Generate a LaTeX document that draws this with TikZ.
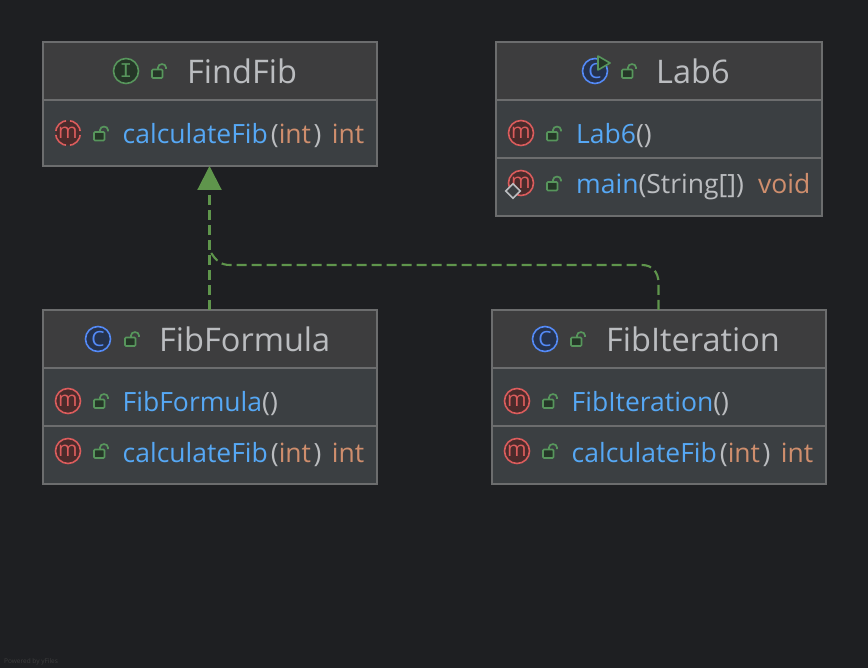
\documentclass[tikz,border=0pt]{standalone}
\usepackage{fontspec}
\setmainfont{Open Sans}
\newfontfamily\slabfont{Liberation Mono}
\usetikzlibrary{
  arrows.meta,
  positioning,
  shapes.geometric
}
\definecolor{canvasBg}{HTML}{1E1F22}
\definecolor{headFill}{HTML}{3D3D3E}
\definecolor{rowFill}{HTML}{3B3F42}
\definecolor{boxLine}{HTML}{6C6D6E}
\definecolor{plainText}{HTML}{BBBDC0}
\definecolor{nameBlue}{HTML}{56A8F5}
\definecolor{typeOrange}{HTML}{CF8E6D}
\definecolor{linkGreen}{HTML}{5F954C}
\definecolor{lockGreen}{HTML}{57965C}
\definecolor{lockFill}{HTML}{253627}
\definecolor{iconRed}{HTML}{DB5C5C}
\definecolor{iconRedFill}{HTML}{4A2B2B}
\definecolor{iconBlue}{HTML}{548AF7}
\definecolor{iconBlueFill}{HTML}{25324D}
\newcommand{\mname}[1]{\textcolor{nameBlue}{#1}}
\newcommand{\mplain}[1]{\textcolor{plainText}{#1}}
\newcommand{\mtype}[1]{\textcolor{typeOrange}{#1}}
\newcommand{\mcalc}{\mname{calculateFib}\kern3pt\mplain{(}\mtype{int}\kern2.5pt\mplain{)}}
\tikzset{
  headbox/.style={
    draw=boxLine,
    fill=headFill,
    line width=1.3pt,
    minimum height=58pt,
    inner sep=0pt,
    outer sep=0pt,
    anchor=north west
  },
  rowbox/.style={
    draw=boxLine,
    fill=rowFill,
    line width=1.3pt,
    inner sep=0pt,
    outer sep=0pt,
    minimum height=58pt
  },
  titletext/.style={
    anchor=base west,
    inner sep=0pt,
    text=plainText,
    font=\fontsize{32.5}{33}\selectfont
  },
  membertext/.style={
    anchor=base west,
    inner sep=0pt,
    font=\fontsize{26.5}{27}\selectfont
  },
  returntext/.style={
    membertext,
    anchor=base east
  },
  methodicon/.style={
    circle,
    draw=iconRed,
    fill=iconRedFill,
    text=iconRed,
    line width=1.6pt,
    inner sep=0pt,
    minimum size=25pt,
    font=\fontsize{21}{21}\selectfont
  },
  classicon/.style={
    methodicon,
    draw=iconBlue,
    fill=iconBlueFill,
    text=iconBlue
  },
  ifaceicon/.style={
    methodicon,
    draw=lockGreen,
    fill=lockFill,
    text=lockGreen
  },
  lockicon/.pic={
    \draw[lockGreen,line width=1.7pt,rounded corners=1pt,fill=lockFill] (0,0) rectangle (10.5,-8.5);
    \draw[lockGreen,line width=1.7pt] (6,-8.5) -- (6,-10.5) .. controls (6,-15) and (14,-15) .. (14,-10.5) -- (14,-9);
  },
  realise/.style={
    draw=linkGreen,
    line width=2.1pt,
    dash pattern=on 10pt off 5pt
  }
}
\begin{document}
\begin{tikzpicture}[x=1pt,y=-1pt,node distance=0pt]
  \useasboundingbox[fill=canvasBg] (0,0) rectangle (868,668);

  \node[headbox,minimum width=334pt] (FindFibHead) at (43,42) {};
  \node[rowbox,minimum width=334pt,minimum height=66pt,below=of FindFibHead] (FindFibRow) {};

  \node[headbox,minimum width=326pt] (LabHead) at (496,42) {};
  \node[rowbox,minimum width=326pt,below=of LabHead] (LabRowA) {};
  \node[rowbox,minimum width=326pt,below=of LabRowA] (LabRowB) {};

  \node[headbox,minimum width=334pt] (FormulaHead) at (43,310) {};
  \node[rowbox,minimum width=334pt,below=of FormulaHead] (FormulaRowA) {};
  \node[rowbox,minimum width=334pt,below=of FormulaRowA] (FormulaRowB) {};

  \node[headbox,minimum width=334pt] (IterHead) at (492,310) {};
  \node[rowbox,minimum width=334pt,below=of IterHead] (IterRowA) {};
  \node[rowbox,minimum width=334pt,below=of IterRowA] (IterRowB) {};

  \foreach \n/\x/\y in {labA/521/133,labB/521/183,formA/68/401,formB/68/451,iterA/517/401,iterB/517/451}{
    \node[methodicon] (\n) at (\x,\y) {m};
  }
  \node[methodicon,dash pattern=on 15.5pt off 4pt,dash phase=17.5pt] (findA) at (68,133) {m};
  \node[draw=plainText,fill=rowFill,line width=1.6pt,diamond,aspect=1,inner sep=0pt,minimum size=15pt] (labStatic) at (513,191) {};

  \node[ifaceicon,font=\slabfont\fontsize{21}{21}\selectfont] (findIcon) at (126,71) {I};
  \node[classicon] (labIcon) at (595,71) {C};
  \node[classicon] (formIcon) at (98,339) {C};
  \node[classicon] (iterIcon) at (545,339) {C};
  \draw[lockGreen,fill=lockFill,line width=1.6pt,line join=round] (598,56) -- (610,63) -- (598,70) -- cycle;

  \foreach \n/\x/\y in {lkFind/152/78,lkFindA/94/140.5,lkLab/622/78,lkLabA/547/140.5,lkLabB/547/190.5,lkForm/125/346,lkFormA/94/408,lkFormB/94/458,lkIter/571/346,lkIterA/543/408,lkIterB/543/458}{
    \pic (\n) at (\x,\y) {lockicon};
  }

  \node[titletext] (findTitle) at (187,84) {FindFib};
  \node[titletext] (labTitle) at (656,84) {Lab6};
  \node[titletext] (formTitle) at (159,351.5) {FibFormula};
  \node[titletext] (iterTitle) at (606,351.5) {FibIteration};

  \node[membertext] (findCalc) at (122.5,144) {\mcalc};
  \node[returntext] (findRet) at (364.5,144) {\mtype{int}};
  \node[membertext] (labCtor) at (576,144) {\mname{Lab6}\mplain{()}};
  \node[membertext] (labMain) at (576,194) {\mname{main}\mplain{(String[])}};
  \node[returntext] (labRet) at (810.5,194) {\mtype{void}};
  \node[membertext] (formCtor) at (122.5,412) {\mname{FibFormula}\mplain{()}};
  \node[membertext] (formCalc) at (122.5,462) {\mcalc};
  \node[returntext] (formRet) at (364.5,462) {\mtype{int}};
  \node[membertext] (iterCtor) at (571.5,412) {\mname{FibIteration}\mplain{()}};
  \node[membertext] (iterCalc) at (571.5,462) {\mcalc};
  \node[returntext] (iterRet) at (813.5,462) {\mtype{int}};

  \coordinate (merge) at ([xshift=-0.5pt]FormulaHead.north |- 0,250);
  \draw[realise,-{Stealth[inset=0pt,length=24pt,width=24pt,sep=0pt]}] ([xshift=-0.5pt]FormulaHead.north) -- ([xshift=-0.5pt]FindFibRow.south);
  \draw[realise] ([xshift=-0.5pt]IterHead.north) -- ++(0,-27) .. controls ++(0,-11) and (652,265) .. (642,265) -- (230,265) .. controls (222,265) and (216,262) .. (merge);

  \node[anchor=base west,inner sep=0pt,text=headFill,font=\fontsize{6.5}{7}\selectfont] (poweredBy) at (4,663) {Powered by yFiles};
\end{tikzpicture}
\end{document}
